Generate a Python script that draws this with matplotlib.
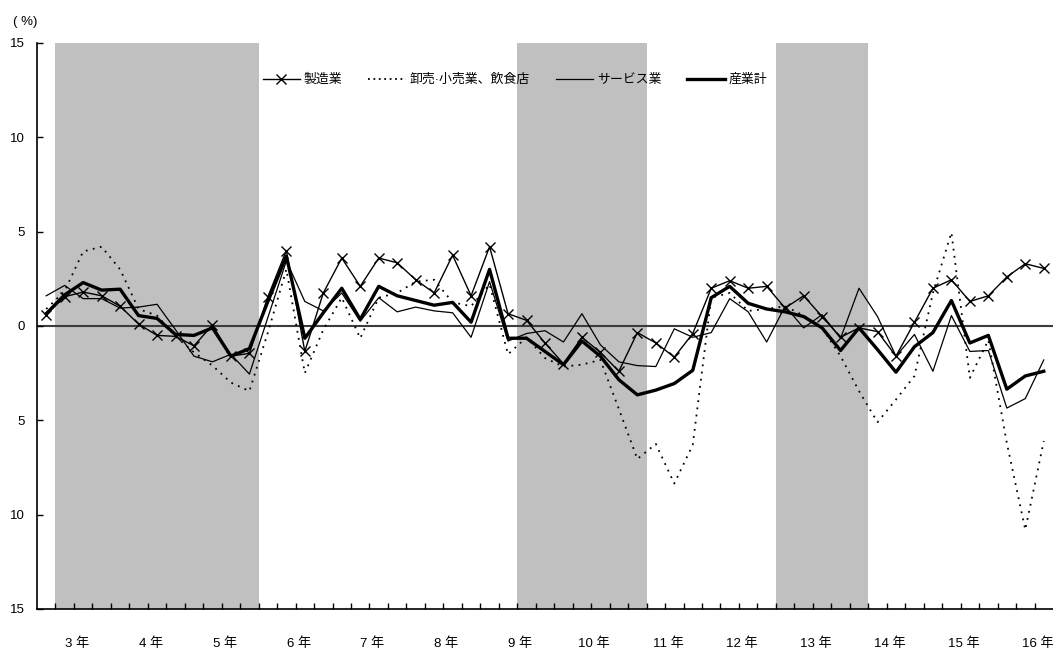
import numpy as np
import matplotlib
matplotlib.use("Agg")
import matplotlib.pyplot as plt

plt.rcParams['font.family'] = ['Liberation Sans', 'Noto Sans CJK JP', 'DejaVu Sans']

# 四半期データ（平成3年1-3月期～平成16年7-9月期）
years = list(range(3, 17))
seizo = [0.6, 1.55, 1.8, 1.6, 1.05, 0.1, -0.5, -0.55, -1.05, 0.05, -1.6, -1.45,
         1.55, 4.0, -1.35, 1.75, 3.6, 2.1, 3.6, 3.35, 2.45, 1.75, 3.75, 1.6,
         4.2, 0.65, 0.3, -0.9, -2.0, -0.6, -1.4, -2.4, -0.35, -0.9, -1.65, -0.4,
         2.0, 2.4, 2.0, 2.1, 0.95, 1.6, 0.5, -0.6, -0.1, -0.3, -1.6, 0.2,
         2.0, 2.45, 1.3, 1.6, 2.6, 3.3, 3.05]
oroshi = [0.9, 1.85, 3.95, 4.2, 3.0, 0.9, 0.55, -0.55, -1.4, -2.1, -3.0, -3.45,
          -0.35, 3.0, -2.5, -0.2, 1.5, -0.65, 1.5, 1.75, 2.35, 2.45, 1.25, 1.05,
          2.2, -1.5, -0.6, -1.7, -2.15, -2.05, -1.8, -4.4, -7.05, -6.25, -8.35, -6.3,
          1.5, 1.75, 0.8, 0.9, 1.05, 0.55, -0.1, -1.6, -3.45, -5.1, -3.9, -2.65,
          1.75, 4.95, -2.75, -0.75, -6.2, -10.8, -6.1]
service = [1.6, 2.15, 1.45, 1.45, 0.95, 1.0, 1.15, -0.2, -1.6, -1.9, -1.5, -2.55,
           0.45, 3.45, 1.3, 0.8, 1.75, 0.25, 1.5, 0.75, 1.0, 0.8, 0.7, -0.6,
           2.35, -0.8, -0.4, -0.25, -0.85, 0.65, -1.0, -1.9, -2.1, -2.15, -0.15, -0.6,
           -0.35, 1.45, 0.75, -0.85, 1.05, -0.1, 0.6, -0.65, 2.0, 0.5, -1.6, -0.45,
           -2.4, 0.55, -1.35, -1.3, -4.35, -3.85, -1.8]
sangyo = [0.65, 1.65, 2.3, 1.9, 1.95, 0.55, 0.4, -0.45, -0.5, -0.1, -1.6, -1.2,
          1.3, 3.7, -0.65, 0.7, 2.0, 0.35, 2.1, 1.6, 1.35, 1.1, 1.25, 0.2,
          3.0, -0.65, -0.65, -1.35, -2.05, -0.8, -1.6, -2.85, -3.65, -3.4, -3.05, -2.35,
          1.5, 2.1, 1.2, 0.9, 0.75, 0.5, -0.1, -1.3, -0.1, -1.25, -2.45, -1.1,
          -0.35, 1.35, -0.9, -0.5, -3.35, -2.65, -2.4]
# 景気後退期（四半期の通し番号、始点と終点）
recessions = [(1, 11), (26, 32), (40, 44)]
yticks = [-15, -10, -5, 0, 5, 10, 15]

x = np.arange(len(sangyo))

fig = plt.figure(figsize=(10.53, 6.53), dpi=100)
ax = fig.add_axes([0.0351, 0.0674, 0.9649, 0.8668])

for s, e in recessions:
    ax.axvspan(s - 0.5, e + 0.5, color='#c0c0c0', lw=0, zorder=0)
ax.axhline(0, color='#3c3c3c', lw=1.5, zorder=1)

ax.plot(x, seizo, color='black', lw=1.0, marker='x', ms=7, mew=1.0, label='製造業', zorder=3)
ax.plot(x, oroshi, color='black', lw=1.3, ls=(0, (1, 3)), label='卸売·小売業、飲食店', zorder=3)
ax.plot(x, service, color='black', lw=0.9, label='サービス業', zorder=3)
ax.plot(x, sangyo, color='black', lw=2.4, label='産業計', zorder=4)

ax.set_xlim(-0.5, len(x) - 0.5)
ax.set_ylim(-15, 15)
ax.set_yticks(yticks)
ax.set_yticklabels([str(abs(v)) for v in yticks], fontsize=9.5)
ax.tick_params(axis='y', direction='in', length=4, width=1, pad=9)

ax.set_xticks(np.arange(0.5, len(x) - 0.5, 1))
ax.set_xticklabels([])
ax.tick_params(axis='x', direction='in', length=4, width=1)

for yr in years:
    ax.text(4 * (yr - 3) + 1.67, -0.062, f'{yr} 年', transform=ax.get_xaxis_transform(),
            ha='center', va='center', fontsize=9.5)

for side in ['top', 'right']:
    ax.spines[side].set_visible(False)
for side in ['left', 'bottom']:
    ax.spines[side].set_linewidth(1.2)

fig.text(0.0237, 0.966, '( %)', ha='center', va='center', fontsize=9.5)

leg = ax.legend(loc='center left', bbox_to_anchor=(0.222, 0.9346), ncol=4, frameon=False,
                fontsize=9.3, handlelength=2.9, handletextpad=0.3, columnspacing=2.0,
                borderpad=0, borderaxespad=0, numpoints=1)
# 凡例の点線は間隔を詰めて表示
leg.get_lines()[1].set_linestyle((0, (1, 2)))

fig.savefig('out.png', dpi=100)
